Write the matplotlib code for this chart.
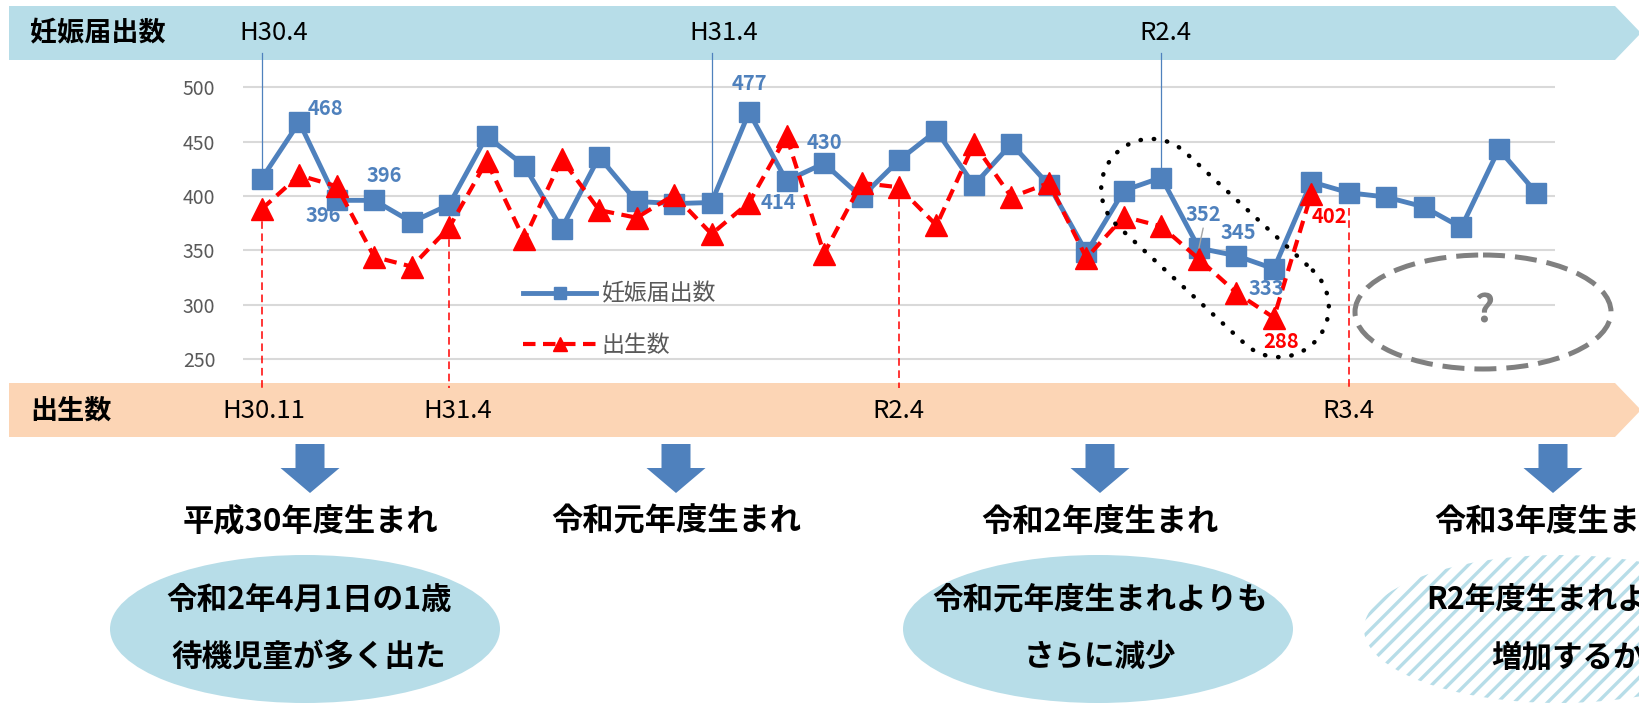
import matplotlib
matplotlib.use('Agg')
import matplotlib.pyplot as plt
from matplotlib.patches import Polygon, Ellipse
import numpy as np

plt.rcParams['font.family'] = ['Noto Sans CJK JP', 'DejaVu Sans']
plt.rcParams['hatch.linewidth'] = 2.4

W, H = 1639, 706

# 妊娠届出数 (H30.4 〜 R3.2)
todoke = [416, 468, 396, 396, 376, 392, 455, 428, 370, 436, 395, 393, 394, 477, 414,
          430, 399, 433, 460, 410, 448, 410, 348, 405, 417, 352, 345, 333, 413, 403,
          399, 390, 371, 443, 403]
# 出生数 (H30.11 〜 R3.3)
shussei = [388, 419, 409, 344, 335, 371, 432, 360, 434, 387, 380, 401, 365, 394, 455,
           347, 412, 408, 373, 448, 399, 412, 343, 381, 372, 342, 311, 288, 402]

yticks = [250, 300, 350, 400, 450, 500]
top_labels = ['H30.4', 'H31.4', 'R2.4']
top_idx = [0, 12, 24]
bottom_labels = ['H30.11', 'H31.4', 'R2.4', 'R3.4']
bottom_idx = [0, 5, 17, 29]
nendo = ['平成30年度生まれ', '令和元年度生まれ', '令和2年度生まれ', '令和3年度生まれ']
notes = [('令和2年4月1日の1歳', '待機児童が多く出た'),
         ('令和元年度生まれよりも', 'さらに減少'),
         ('R2年度生まれよりも', '増加するか')]

BLUE = '#4f81bd'
RED = '#ff0000'
LBLUE = '#b7dde8'
PEACH = '#fcd5b5'

fig = plt.figure(figsize=(W / 100, H / 100), dpi=100)

# 背景レイヤー (ピクセル座標)
bg = fig.add_axes([0, 0, 1, 1], zorder=0)
bg.set_xlim(0, W)
bg.set_ylim(H, 0)
bg.axis('off')

# メインのグラフ
ax = fig.add_axes([243 / W, 1 - 380.7 / H, 1312 / W, (380.7 - 65.6) / H], zorder=1)
ax.patch.set_visible(False)

# 前面レイヤー
fg = fig.add_axes([0, 0, 1, 1], zorder=2)
fg.set_xlim(0, W)
fg.set_ylim(H, 0)
fg.axis('off')
fg.patch.set_visible(False)


def band(y0, y1, color):
    ym = (y0 + y1) / 2
    bg.add_patch(Polygon([(9, y0), (1615, y0), (1641, ym), (1615, y1), (9, y1)],
                         closed=True, fc=color, ec='none'))


band(6, 60, LBLUE)
band(383, 437, PEACH)

bg.text(30, 33, '妊娠届出数', fontsize=19.5, fontweight='bold', ha='left', va='center')
bg.text(30, 411, '出生数', fontsize=19.5, fontweight='bold', ha='left', va='center')
for lab, px in zip(top_labels, [274, 724, 1165]):
    bg.text(px, 33, lab, fontsize=18.5, ha='center', va='center')
for lab, px in zip(bottom_labels, [264, 458, 898, 1348]):
    bg.text(px, 411, lab, fontsize=18.5, ha='center', va='center')

# 下向き矢印と説明
for cx, txt in zip([310, 676, 1100, 1553], nendo):
    bg.add_patch(Polygon([(cx - 14.5, 444), (cx + 14.5, 444), (cx + 14.5, 468), (cx + 29.5, 468),
                          (cx, 493), (cx - 29.5, 468), (cx - 14.5, 468)], fc=BLUE, ec='none'))
    bg.text(cx, 522, txt, fontsize=22.5, fontweight='bold', ha='center', va='center')

bg.add_patch(Ellipse((305, 629), 390, 148, fc=LBLUE, ec='none'))
bg.add_patch(Ellipse((1098, 629), 390, 148, fc=LBLUE, ec='none'))
bg.add_patch(Ellipse((1559, 629), 390, 148, fc='white', ec=LBLUE, lw=0, hatch='//'))
for cx, (l1, l2) in zip([309, 1100, 1568], notes):
    bg.text(cx, 600, l1, fontsize=22, fontweight='bold', ha='center', va='center')
    bg.text(cx, 657, l2, fontsize=22, fontweight='bold', ha='center', va='center')

# 系列
x1 = np.arange(len(todoke))
x2 = np.arange(len(shussei))
ax.plot(x1, todoke, color=BLUE, lw=3.5, marker='s', ms=15, label='妊娠届出数', zorder=3)
ax.plot(x2, shussei, color=RED, lw=3, ls=(0, (3, 1.8)), marker='^', ms=16,
        label='出生数', zorder=4)

# 補助線
for i in top_idx:
    ax.plot([i, i], [todoke[i], 532], color=BLUE, lw=0.9, clip_on=False, zorder=2)
for i in bottom_idx:
    top = shussei[i] if i < len(shussei) else 389
    ax.plot([i, i], [top, 223], color=RED, lw=1.1, ls=(0, (5, 3)), clip_on=False, zorder=2)

# データラベル
blue_lab = {1: (18.7, 10.1), 2: (-10, -10.8), 3: (7.4, 17.6), 13: (0, 20.6),
            14: (-5.8, -15.8), 15: (0, 14.8), 25: (3.5, 24), 26: (1.5, 16.5),
            27: (-5.4, -14.4)}
for i, (dx, dy) in blue_lab.items():
    kw = {}
    if i == 25:
        kw['arrowprops'] = dict(arrowstyle='-', color='#a6a6a6', lw=1,
                                shrinkA=0, shrinkB=0, relpos=(0.5, 0))
    ax.annotate(str(todoke[i]), (i, todoke[i]), xytext=(dx, dy), textcoords='offset points',
                ha='center', va='center', color=BLUE, fontsize=14.5, fontweight='bold',
                zorder=6, **kw)
red_lab = {27: (5, -16.8), 28: (13, -16.5)}
for i, (dx, dy) in red_lab.items():
    ax.annotate(str(shussei[i]), (i, shussei[i]), xytext=(dx, dy), textcoords='offset points',
                ha='center', va='center', color=RED, fontsize=14.5, fontweight='bold', zorder=6)

ax.set_xlim(-0.5, len(todoke) - 0.5)
ax.set_ylim(230, 520)
ax.set_yticks(yticks)
ax.set_xticks([])
ax.tick_params(axis='y', length=0, pad=20, labelsize=14, labelcolor='#595959')
ax.grid(axis='y', color='#d9d9d9', lw=1.5)
ax.set_axisbelow(True)
for s in ax.spines.values():
    s.set_visible(False)

leg = ax.legend(loc='center left', bbox_to_anchor=(523, 320), bbox_transform=bg.transData,
                frameon=False, fontsize=16.5, handlelength=3.2, handletextpad=0.2,
                labelspacing=1.25, borderpad=0, borderaxespad=0, markerscale=0.62)
for t in leg.get_texts():
    t.set_color('#595959')


# 点線の囲み
def stadium(cx, cy, L, R, ang):
    t = np.linspace(-np.pi / 2, np.pi / 2, 40)
    right = np.c_[L - R + R * np.cos(t), R * np.sin(t)]
    left = np.c_[-(L - R) - R * np.cos(t), -R * np.sin(t)]
    pts = np.vstack([right, left, right[:1]])
    a = np.radians(ang)
    rot = np.array([[np.cos(a), -np.sin(a)], [np.sin(a), np.cos(a)]])
    return pts @ rot.T + [cx, cy]


pts = stadium(1215, 248, 137, 50, 42.8)
fg.plot(pts[:, 0], pts[:, 1], color='black', lw=3.2, ls=(0, (0.1, 2.9)),
        dash_capstyle='round')

fg.add_patch(Ellipse((1483, 312), 256, 114, fill=False, ec='#808080', lw=3.6,
                     ls=(0, (4.4, 2))))
fg.text(1484, 311, '?', fontsize=28, color='#808080', ha='center', va='center',
        fontweight='bold')

fig.savefig('out.png', dpi=100)
